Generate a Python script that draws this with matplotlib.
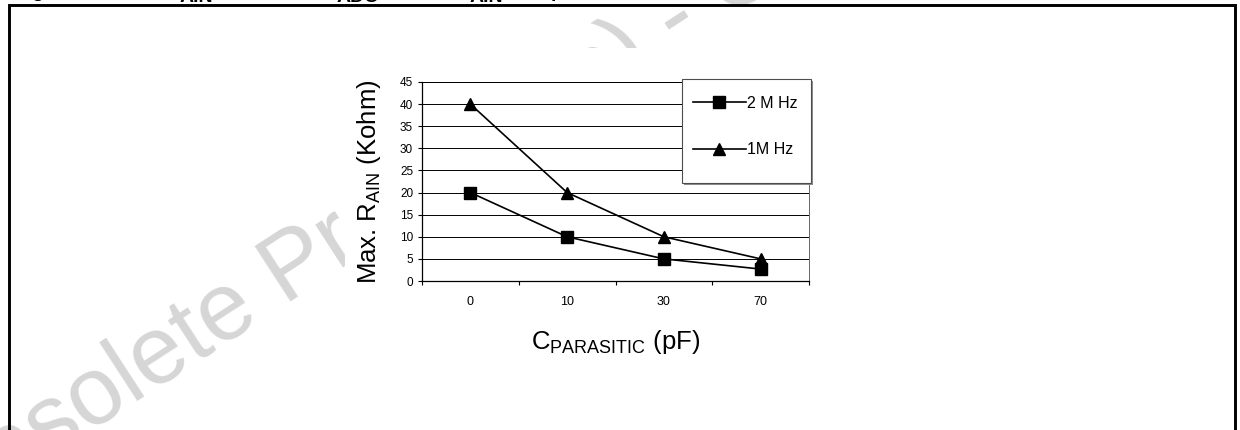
import matplotlib
matplotlib.use('Agg')
import matplotlib.pyplot as plt
from matplotlib.patches import Rectangle

plt.rcParams['font.family'] = ['Liberation Sans', 'DejaVu Sans']
plt.rcParams['mathtext.fontset'] = 'custom'
plt.rcParams['mathtext.rm'] = 'Liberation Sans'
plt.rcParams['mathtext.bf'] = 'Liberation Sans:bold'

# данные графика
categories = ['0', '10', '30', '70']
rain_2mhz = [20, 10, 5, 2.7]
rain_1mhz = [40, 20, 10, 5]
series_labels = ['2 M Hz', '1M Hz']
yticks = list(range(0, 50, 5))

W, H = 1240, 430
fig = plt.figure(figsize=(W / 100, H / 100), dpi=100, facecolor='white')


def fx(x):
    return x / W


def fy(y):
    return 1 - y / H


# водяной знак
fig.text(fx(-60), fy(529), 'Obsolete Product(s) - Obsolete Product(s)',
         rotation=33, rotation_mode='anchor', ha='left', va='baseline',
         fontsize=69, color='0.84', zorder=-3)

# белая подложка под картинкой графика
fig.patches.append(Rectangle((fx(345), fy(338)), fx(860) - fx(345), fy(48) - fy(338),
                             transform=fig.transFigure, facecolor='white',
                             edgecolor='none', zorder=-2))

# обрезанный заголовок сверху
for txt, x, base in [('Figure', 16, -3), ('AIN', 180, 2), ('ADC', 337, 2),
                     ('AIN', 470, 2), ('pF', 551, -3)]:
    fig.text(fx(x), fy(base), txt, fontsize=14, fontweight='bold',
             ha='left', va='baseline')

# рамка
fig.patches.append(Rectangle((fx(8.5), -0.2), fx(1235) - fx(8.5), fy(5) + 0.2,
                             transform=fig.transFigure, fill=False,
                             edgecolor='black', linewidth=2.1, zorder=5))

# оси
ax = fig.add_axes([fx(422), fy(281), fx(809) - fx(422), fy(82) - fy(281)])
xs = list(range(len(categories)))
ax.plot(xs, rain_2mhz, color='black', lw=1.2, marker='s', ms=8.6,
        label=series_labels[0], zorder=3)
ax.plot(xs, rain_1mhz, color='black', lw=1.2, marker='^', ms=9.0,
        label=series_labels[1], zorder=3)

ax.set_xlim(-0.5, len(categories) - 0.5)
ax.set_ylim(0, 45)
ax.set_yticks(yticks)
ax.set_xticks(xs)
ax.set_xticklabels(categories)
ax.set_xticks([i - 0.5 for i in range(len(categories) + 1)], minor=True)
ax.yaxis.grid(True, color='black', lw=0.7)
ax.set_axisbelow(True)

for s in ['left', 'bottom']:
    ax.spines[s].set_linewidth(0.9)
ax.spines['top'].set_linewidth(0.7)
ax.spines['right'].set_color('0.4')
ax.spines['right'].set_linewidth(0.7)

ax.tick_params(axis='y', direction='out', length=2.9, width=0.8, labelsize=8.5, pad=3.5)
ax.tick_params(axis='x', which='major', length=0, labelsize=9, pad=11)
ax.tick_params(axis='x', which='minor', direction='out', length=2.9, width=0.8)

ax.set_ylabel(r'Max. R$_\mathregular{AIN}$ (Kohm)', fontsize=18.5)
ax.yaxis.set_label_coords((383 - 422) / 387, 0.5)
ax.set_xlabel(r'C$_\mathregular{PARASITIC}$ (pF)', fontsize=18.5)
ax.xaxis.set_label_coords(0.5, -0.235)

# легенда
fig.patches.append(Rectangle((fx(684), fy(185)), fx(811) - fx(682), fy(79) - fy(183),
                             transform=fig.transFigure, facecolor='0.55',
                             edgecolor='none', zorder=2))
fig.patches.append(Rectangle((fx(682), fy(183)), fx(811) - fx(682), fy(79) - fy(183),
                             transform=fig.transFigure, facecolor='white',
                             edgecolor='0.3', linewidth=0.8, zorder=2.1))
handles, labels = ax.get_legend_handles_labels()
leg = fig.legend(handles, labels, loc='upper left',
                 bbox_to_anchor=(fx(693), fy(96)), bbox_transform=fig.transFigure,
                 frameon=False, fontsize=11.5, handlelength=3.3, handletextpad=0.1,
                 labelspacing=1.95, borderpad=0, borderaxespad=0, numpoints=1)
leg.set_zorder(3)

fig.savefig('out.png', dpi=100)
